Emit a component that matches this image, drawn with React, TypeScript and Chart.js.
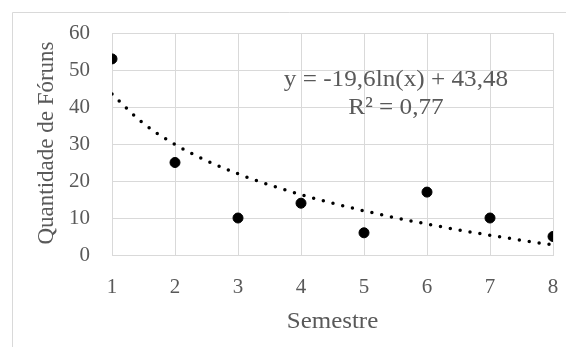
import React, { useEffect, useRef } from "react";
import { Chart, registerables } from "chart.js";

Chart.register(...registerables);

const semestres = [1, 2, 3, 4, 5, 6, 7, 8];
const foruns = [53, 25, 10, 14, 6, 17, 10, 5];
const trendX = [1, 1.5, 2, 2.5, 3, 3.5, 4, 4.5, 5, 5.5, 6, 6.5, 7, 7.5, 8];
const trendY = [43.48, 35.53, 29.89, 25.52, 21.95, 18.93, 16.31, 14.0, 11.94, 10.07, 8.36, 6.79, 5.34, 3.99, 2.72];
const equationLines = ["y = -19,6ln(x) + 43,48", "R² = 0,77"];
const xTitle = "Semestre";
const yTitle = "Quantidade de Fóruns";

const FONT = "'Liberation Serif', 'DejaVu Serif', serif";
const GRAY = "#595959";
const GRID = "#d9d9d9";

function stretchedText(ctx: any, text: string, x: number, y: number, sx: number) {
  ctx.save();
  ctx.translate(x, y);
  ctx.scale(sx, 1);
  ctx.fillText(text, 0, 0);
  ctx.restore();
}

export default function App() {
  const ref = useRef<HTMLCanvasElement | null>(null);
  useEffect(() => {
    if (!ref.current) return;
    const deco = {
      id: "deco",
      beforeDraw(chart: any) {
        const ctx = chart.ctx;
        ctx.save();
        ctx.fillStyle = "#ffffff";
        ctx.fillRect(0, 0, chart.width, chart.height);
        ctx.strokeStyle = GRID;
        ctx.lineWidth = 1;
        ctx.beginPath();
        ctx.moveTo(12.5, chart.height);
        ctx.lineTo(12.5, 12.5);
        ctx.lineTo(chart.width, 12.5);
        ctx.stroke();
        ctx.restore();
      },
      afterDraw(chart: any) {
        const ctx = chart.ctx;
        const ca = chart.chartArea;
        ctx.save();
        ctx.fillStyle = GRAY;
        ctx.font = `24px ${FONT}`;
        ctx.textAlign = "center";
        ctx.textBaseline = "middle";
        stretchedText(ctx, equationLines[0], 396, 80, 1.05);
        stretchedText(ctx, equationLines[1], 396, 108, 1.05);
        stretchedText(ctx, xTitle, (ca.left + ca.right) / 2, 322, 1.04);
        ctx.font = `23px ${FONT}`;
        ctx.translate(47, 143);
        ctx.rotate(-Math.PI / 2);
        ctx.fillText(yTitle, 0, 0);
        ctx.restore();
      },
    };
    const chart = new Chart(ref.current, {
      type: "scatter",
      data: {
        datasets: [
          {
            label: "Fóruns",
            data: semestres.map((x, i) => ({ x, y: foruns[i] })),
            backgroundColor: "#000000",
            borderColor: "#000000",
            pointRadius: 5,
            showLine: false,
          },
          {
            label: "Tendência",
            data: trendX.map((x, i) => ({ x, y: trendY[i] })),
            showLine: true,
            pointRadius: 0,
            borderColor: "#000000",
            borderWidth: 3.5,
            borderDash: [0, 10],
            borderCapStyle: "round",
            cubicInterpolationMode: "monotone",
            fill: false,
          } as any,
        ],
      },
      options: {
        responsive: false,
        animation: false,
        layout: { padding: { left: 0, top: 33, right: 13, bottom: 0 } },
        plugins: { legend: { display: false }, tooltip: { enabled: false } },
        scales: {
          x: {
            type: "linear",
            min: 1,
            max: 8,
            ticks: { stepSize: 1, color: GRAY, font: { family: FONT, size: 21 }, padding: 20, maxRotation: 0 },
            grid: { color: GRID, drawTicks: false },
            border: { color: GRID },
            afterFit: (s: any) => { s.height = 92; s.paddingLeft = 0; s.paddingRight = 0; },
          },
          y: {
            min: 0,
            max: 60,
            ticks: { stepSize: 10, color: GRAY, font: { family: FONT, size: 21 }, padding: 22 },
            grid: { color: GRID, drawTicks: false },
            border: { color: GRID },
            afterFit: (s: any) => { s.width = 112; s.paddingTop = 0; s.paddingBottom = 0; },
          },
        },
      },
      plugins: [deco],
    });
    return () => chart.destroy();
  }, []);
  return (
    <div style={{ position: "fixed", left: 0, top: 0, width: 566, height: 347 }}>
      <canvas ref={ref} width={566} height={347} />
    </div>
  );
}
